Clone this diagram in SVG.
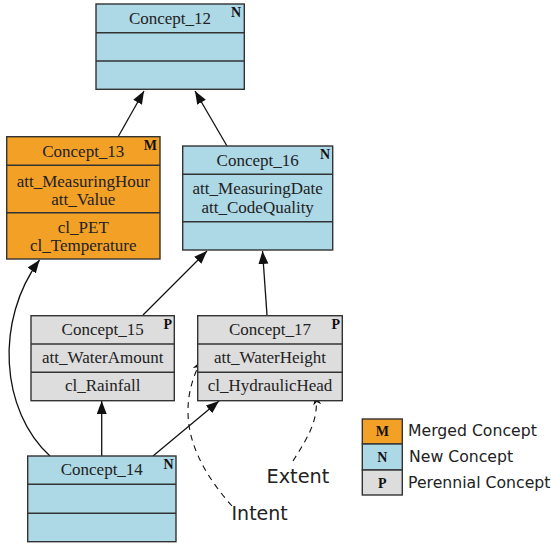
<svg xmlns="http://www.w3.org/2000/svg" width="551" height="546" viewBox="0 0 551 546">
  <defs>
    <style>
      .box { stroke: #333; stroke-width: 1.4; }
      .blue { fill: #ADD8E6; }
      .orange { fill: #F3A126; }
      .grey { fill: #DDDDDD; }
      .sep { stroke: #333; stroke-width: 1.4; }
      .t { font-family: "Liberation Serif", "Times New Roman", serif; font-size: 17px; fill: #222; text-anchor: middle; }
      .badge { font-family: "Liberation Serif", "Times New Roman", serif; font-size: 14px; font-weight: bold; fill: #111; text-anchor: end; }
      .lbadge { font-family: "Liberation Serif", "Times New Roman", serif; font-size: 14px; font-weight: bold; fill: #111; text-anchor: middle; }
      .lab { font-family: "DejaVu Sans", "Liberation Sans", sans-serif; fill: #222; }
      .edge { fill: none; stroke: #111; stroke-width: 1.3; }
      .dash { fill: none; stroke: #111; stroke-width: 1.1; stroke-dasharray: 6 5; }
    </style>
    <marker id="arrow" markerUnits="userSpaceOnUse" markerWidth="14" markerHeight="11" refX="13" refY="5" orient="auto">
      <path d="M0,0 L13,5 L0,10 z" fill="#111"/>
    </marker>
    <marker id="vee" markerUnits="userSpaceOnUse" markerWidth="11" markerHeight="9" refX="10" refY="4" orient="auto">
      <path d="M0,0 L10,4 L0,8 L3,4 z" fill="#111"/>
    </marker>
  </defs>

  <!-- connectors -->
  <g id="connectors">
    <path class="edge" d="M118,137 L144,91" marker-end="url(#arrow)"/>
    <path class="edge" d="M227,146 L195,91" marker-end="url(#arrow)"/>
    <path class="edge" d="M143,315 L207,251" marker-end="url(#arrow)"/>
    <path class="edge" d="M267,315 L262.5,251" marker-end="url(#arrow)"/>
    <path class="edge" d="M50,456 C0,410 -5,320 39.5,260" marker-end="url(#arrow)"/>
    <path class="edge" d="M101.7,456 L101.7,401" marker-end="url(#arrow)"/>
    <path class="edge" d="M153,456 L219,401" marker-end="url(#arrow)"/>
    <path class="dash" d="M232,506 C200,470 170,420 201,361" marker-end="url(#vee)"/>
    <path class="dash" d="M293,461 C306,440 320,420 315.5,395" marker-end="url(#vee)"/>
  </g>

  <!-- Concept_12 -->
  <g id="concept12">
    <rect class="box blue" x="96" y="4" width="148.3" height="85.3"/>
    <line class="sep" x1="96" y1="32.7" x2="244.3" y2="32.7"/>
    <line class="sep" x1="96" y1="61" x2="244.3" y2="61"/>
    <text class="t" x="170" y="23.5">Concept_12</text>
    <text class="badge" x="241" y="17">N</text>
  </g>

  <!-- Concept_13 -->
  <g id="concept13">
    <rect class="box orange" x="6.7" y="136.7" width="153.3" height="122.3"/>
    <line class="sep" x1="6.7" y1="165.3" x2="160" y2="165.3"/>
    <line class="sep" x1="6.7" y1="212.7" x2="160" y2="212.7"/>
    <text class="t" x="83.3" y="157">Concept_13</text>
    <text class="t" x="83.3" y="186.5">att_MeasuringHour</text>
    <text class="t" x="83.3" y="204.5">att_Value</text>
    <text class="t" x="83.3" y="232.5">cl_PET</text>
    <text class="t" x="83.3" y="250.5">cl_Temperature</text>
    <text class="badge" x="157" y="150">M</text>
  </g>

  <!-- Concept_16 -->
  <g id="concept16">
    <rect class="box blue" x="182.7" y="146" width="150" height="104"/>
    <line class="sep" x1="182.7" y1="174.3" x2="332.7" y2="174.3"/>
    <line class="sep" x1="182.7" y1="221.7" x2="332.7" y2="221.7"/>
    <text class="t" x="257.7" y="165.7">Concept_16</text>
    <text class="t" x="257.7" y="194">att_MeasuringDate</text>
    <text class="t" x="257.7" y="212.5">att_CodeQuality</text>
    <text class="badge" x="330" y="159">N</text>
  </g>

  <!-- Concept_15 -->
  <g id="concept15">
    <rect class="box grey" x="31" y="315.7" width="143.3" height="85"/>
    <line class="sep" x1="31" y1="344" x2="174.3" y2="344"/>
    <line class="sep" x1="31" y1="372.3" x2="174.3" y2="372.3"/>
    <text class="t" x="102.7" y="335">Concept_15</text>
    <text class="t" x="102.7" y="363">att_WaterAmount</text>
    <text class="t" x="102.7" y="391">cl_Rainfall</text>
    <text class="badge" x="172" y="329">P</text>
  </g>

  <!-- Concept_17 -->
  <g id="concept17">
    <rect class="box grey" x="197.7" y="315.7" width="144.6" height="85"/>
    <line class="sep" x1="197.7" y1="344" x2="342.3" y2="344"/>
    <line class="sep" x1="197.7" y1="372.3" x2="342.3" y2="372.3"/>
    <text class="t" x="270" y="335">Concept_17</text>
    <text class="t" x="270" y="363">att_WaterHeight</text>
    <text class="t" x="270" y="391">cl_HydraulicHead</text>
    <text class="badge" x="340" y="329">P</text>
  </g>

  <!-- Concept_14 -->
  <g id="concept14">
    <rect class="box blue" x="27.7" y="456" width="148.3" height="85.7"/>
    <line class="sep" x1="27.7" y1="484.3" x2="176" y2="484.3"/>
    <line class="sep" x1="27.7" y1="513.3" x2="176" y2="513.3"/>
    <text class="t" x="101.8" y="475">Concept_14</text>
    <text class="badge" x="173.5" y="469">N</text>
  </g>

  <!-- annotation labels -->
  <g id="labels">
    <text class="lab" x="266.5" y="482.5" font-size="19.3">Extent</text>
    <text class="lab" x="231.5" y="520" font-size="19">Intent</text>
  </g>

  <!-- legend -->
  <g id="legend">
    <rect class="box orange" x="362.3" y="419" width="40" height="25"/>
    <rect class="box blue" x="362.3" y="444" width="40" height="26"/>
    <rect class="box grey" x="362.3" y="470" width="40" height="25"/>
    <text class="lbadge" x="382.3" y="436">M</text>
    <text class="lbadge" x="382.3" y="462">N</text>
    <text class="lbadge" x="382.3" y="487.5">P</text>
    <text class="lab" x="408" y="436" font-size="15.7">Merged Concept</text>
    <text class="lab" x="409" y="461.5" font-size="15.7">New Concept</text>
    <text class="lab" x="408" y="487.5" font-size="15.7">Perennial Concept</text>
  </g>
</svg>
